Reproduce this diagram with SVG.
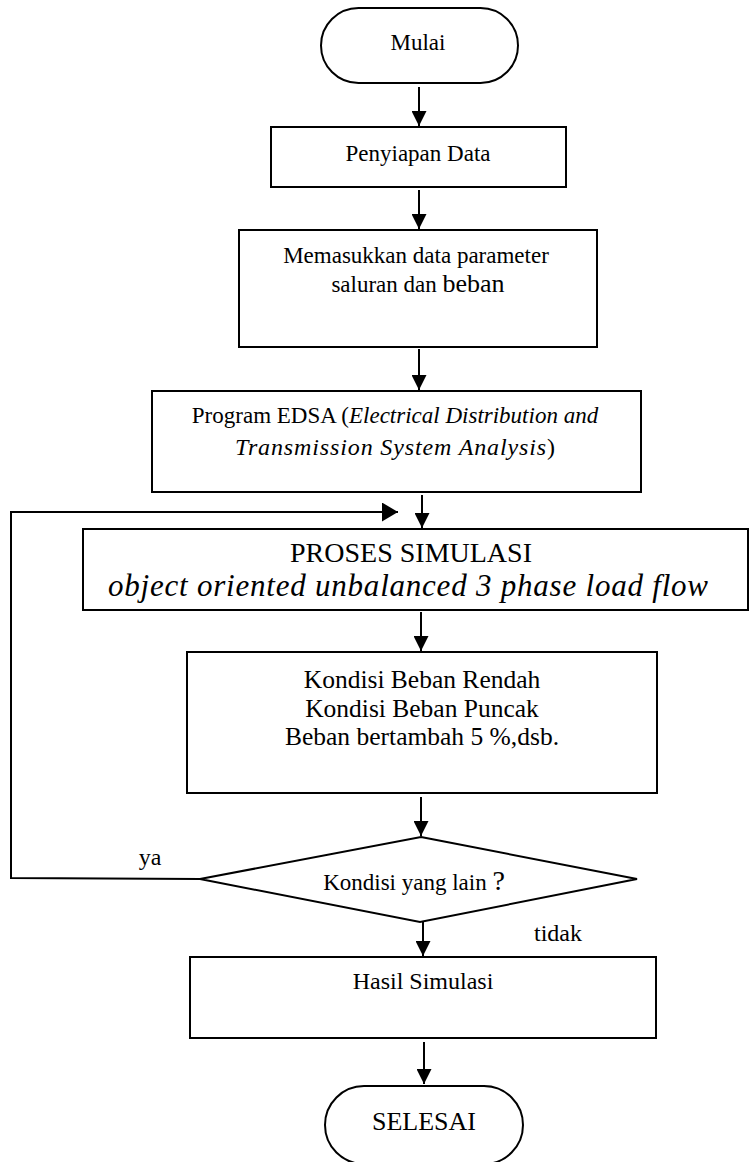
<svg xmlns="http://www.w3.org/2000/svg" width="750" height="1162" viewBox="0 0 750 1162">
<style>
.box{fill:#fff;stroke:#000;stroke-width:2}
.ln{fill:none;stroke:#000;stroke-width:2}
.t{font-family:"Liberation Serif","Times New Roman",serif;fill:#000;text-anchor:middle}
.i{font-style:italic}
</style>
<defs>
<marker id="ah" markerWidth="15" markerHeight="15" viewBox="0 0 15 15" refX="15" refY="7.5" orient="auto" markerUnits="userSpaceOnUse">
<path d="M0,0 L15,7.5 L0,15 Z" fill="#000"/>
</marker>
<marker id="ahb" markerWidth="16" markerHeight="19" viewBox="0 0 16 19" refX="16" refY="9.5" orient="auto" markerUnits="userSpaceOnUse">
<path d="M0,0 L16,9.5 L0,19 Z" fill="#000"/>
</marker>
</defs>
<rect width="750" height="1162" fill="#fff"/>
<g id="connectors">
<line class="ln" x1="419" y1="87" x2="419" y2="126" marker-end="url(#ah)"/>
<line class="ln" x1="419" y1="190" x2="419" y2="229" marker-end="url(#ah)"/>
<line class="ln" x1="419" y1="349" x2="419" y2="390" marker-end="url(#ah)"/>
<line class="ln" x1="422" y1="495" x2="422" y2="528" marker-end="url(#ah)"/>
<line class="ln" x1="421" y1="612" x2="421" y2="651" marker-end="url(#ah)"/>
<line class="ln" x1="421" y1="797" x2="421" y2="836" marker-end="url(#ah)"/>
<line class="ln" x1="423" y1="922" x2="423" y2="956" marker-end="url(#ah)"/>
<line class="ln" x1="424" y1="1042" x2="424" y2="1084" marker-end="url(#ah)"/>
<polyline class="ln" points="200,879 11,878 11,512 398,512" marker-end="url(#ahb)"/>
<text class="t" x="150" y="865" font-size="24">ya</text>
<text class="t" x="558" y="941" font-size="24">tidak</text>
</g>
<g id="mulai">
<rect class="box" x="321" y="8" width="197" height="75" rx="37.5"/>
<text class="t" x="418" y="50" font-size="23">Mulai</text>
</g>
<g id="penyiapan">
<rect class="box" x="271" y="127" width="295" height="60"/>
<text class="t" x="418" y="161" font-size="23">Penyiapan Data</text>
</g>
<g id="memasukkan">
<rect class="box" x="239" y="230" width="358" height="117"/>
<text class="t" x="416" y="263" font-size="23">Memasukkan data parameter</text>
<text class="t" x="418" y="292" font-size="23">saluran dan <tspan font-size="26">beban</tspan></text>
</g>
<g id="edsa">
<rect class="box" x="152" y="391" width="489" height="101"/>
<text class="t" x="395" y="423" font-size="23">Program EDSA (<tspan class="i">Electrical Distribution and</tspan></text>
<text class="t" x="395" y="455" font-size="24" textLength="320" lengthAdjust="spacing"><tspan class="i">Transmission System Analysis</tspan>)</text>
</g>
<g id="proses">
<rect class="box" x="83" y="529" width="665" height="81"/>
<text class="t" x="411" y="562" font-size="28">PROSES SIMULASI</text>
<text class="t i" x="408" y="596" font-size="31" textLength="600" lengthAdjust="spacing">object oriented unbalanced 3 phase load flow</text>
</g>
<g id="kondisi">
<rect class="box" x="187" y="652" width="470" height="141"/>
<text class="t" x="422" y="688" font-size="25.5">Kondisi Beban Rendah</text>
<text class="t" x="422" y="717" font-size="25.5">Kondisi Beban Puncak</text>
<text class="t" x="422" y="745" font-size="25.5">Beban bertambah 5 %,dsb.</text>
</g>
<g id="keputusan">
<polygon class="box" points="421,837 637,879 420,922 200,879"/>
<text class="t" x="414" y="890" font-size="23">Kondisi yang lain <tspan font-size="28">?</tspan></text>
</g>
<g id="hasil">
<rect class="box" x="190" y="957" width="466" height="81"/>
<text class="t" x="423" y="989" font-size="24">Hasil Simulasi</text>
</g>
<g id="selesai">
<rect class="box" x="325" y="1086" width="198" height="78" rx="39"/>
<text class="t" x="424" y="1130" font-size="26">SELESAI</text>
</g>
</svg>
